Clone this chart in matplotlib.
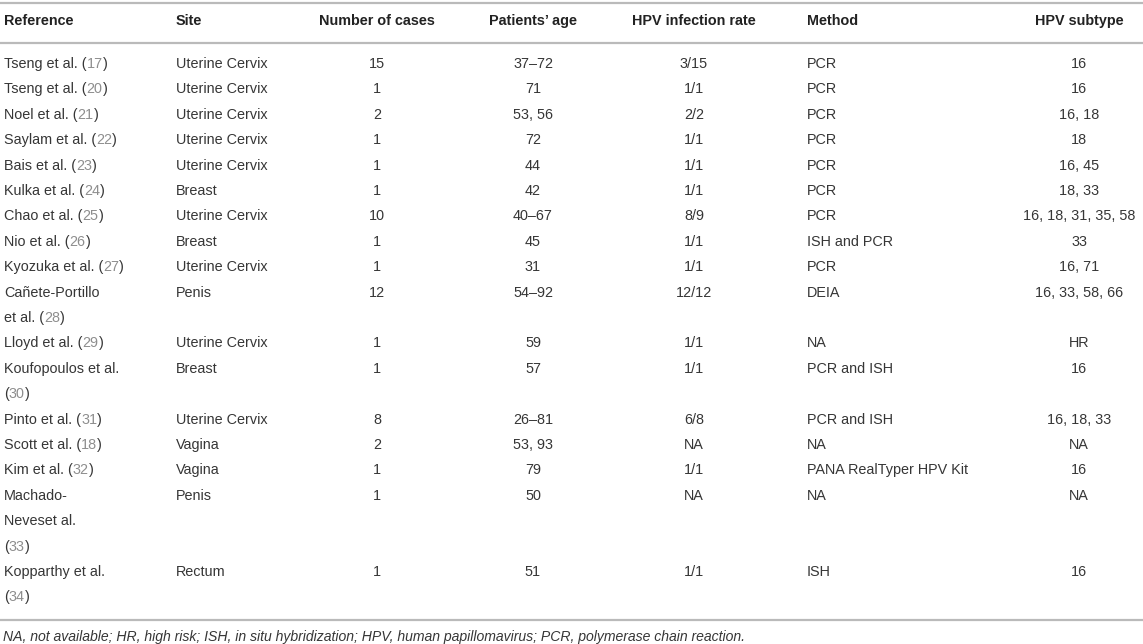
import re
import matplotlib
matplotlib.use("Agg")
import matplotlib.pyplot as plt

plt.rcParams['font.family'] = ['Liberation Sans', 'DejaVu Sans']

# ---------------- data ----------------
headers = ["Reference", "Site", "Number of cases", "Patients\u2019 age",
           "HPV infection rate", "Method", "HPV subtype"]

references = [
    ["Tseng et al. (17)"],
    ["Tseng et al. (20)"],
    ["Noel et al. (21)"],
    ["Saylam et al. (22)"],
    ["Bais et al. (23)"],
    ["Kulka et al. (24)"],
    ["Chao et al. (25)"],
    ["Nio et al. (26)"],
    ["Kyozuka et al. (27)"],
    ["Cañete-Portillo", "et al. (28)"],
    ["Lloyd et al. (29)"],
    ["Koufopoulos et al.", "(30)"],
    ["Pinto et al. (31)"],
    ["Scott et al. (18)"],
    ["Kim et al. (32)"],
    ["Machado-", "Neveset al.", "(33)"],
    ["Kopparthy et al.", "(34)"],
]
sites = ["Uterine Cervix", "Uterine Cervix", "Uterine Cervix", "Uterine Cervix",
         "Uterine Cervix", "Breast", "Uterine Cervix", "Breast", "Uterine Cervix",
         "Penis", "Uterine Cervix", "Breast", "Uterine Cervix", "Vagina", "Vagina",
         "Penis", "Rectum"]
num_cases = ["15", "1", "2", "1", "1", "1", "10", "1", "1", "12", "1", "1", "8",
             "2", "1", "1", "1"]
patients_age = ["37\u201372", "71", "53, 56", "72", "44", "42", "40\u201367", "45",
                "31", "54\u201392", "59", "57", "26\u201381", "53, 93", "79", "50", "51"]
infection_rate = ["3/15", "1/1", "2/2", "1/1", "1/1", "1/1", "8/9", "1/1", "1/1",
                  "12/12", "1/1", "1/1", "6/8", "NA", "1/1", "NA", "1/1"]
methods = ["PCR", "PCR", "PCR", "PCR", "PCR", "PCR", "PCR", "ISH and PCR", "PCR",
           "DEIA", "NA", "PCR and ISH", "PCR and ISH", "NA",
           "PANA RealTyper HPV Kit", "NA", "ISH"]
subtypes = ["16", "16", "16, 18", "18", "16, 45", "18, 33", "16, 18, 31, 35, 58",
            "33", "16, 71", "16, 33, 58, 66", "HR", "16", "16, 18, 33", "NA", "16",
            "NA", "16"]
footnote = ("NA, not available; HR, high risk; ISH, in situ hybridization; HPV, "
            "human papillomavirus; PCR, polymerase chain reaction.")

# ---------------- layout ----------------
W, H = 1143, 644
FS = 10.4
TXT = "#363636"
GRAY = "#8e8e8e"
LINE = "#bababa"

fig = plt.figure(figsize=(W / 100, H / 100), dpi=100)
ax = fig.add_axes([0, 0, 1, 1])
ax.set_xlim(0, W)
ax.set_ylim(H, 0)
ax.axis("off")

# column anchors: (x, ha)
cols = [(4, "left"), (176, "left"), (377, "center"), (533, "center"),
        (694, "center"), (807, "left"), (1079, "center")]

y_top_line = 3
y_header = 21
y_head_line = 43
y_first = 64
step = 25.4

for y in (y_top_line, y_head_line):
    ax.plot([0, W], [y, y], color=LINE, lw=1.6, solid_capstyle="butt")

for (x, ha), h in zip(cols, headers):
    ax.text(x, y_header, h, ha=ha, va="center", fontsize=FS,
            fontweight="bold", color="#222222")


def draw_ref_line(x, y, line):
    parts = re.split(r"(\d+)", line)
    prev = None
    for i, p in enumerate(parts):
        if p == "":
            continue
        color = GRAY if (i % 2 == 1) else TXT
        if prev is None:
            prev = ax.text(x, y, p, ha="left", va="center", fontsize=FS, color=color)
        else:
            prev = ax.annotate(p, xy=(1, 0), xycoords=prev, ha="left",
                               va="bottom", fontsize=FS, color=color)


line_idx = 0
for r in range(len(references)):
    y = y_first + line_idx * step
    for k, ln in enumerate(references[r]):
        draw_ref_line(cols[0][0], y + k * step, ln)
    vals = [sites[r], num_cases[r], patients_age[r], infection_rate[r],
            methods[r], subtypes[r]]
    for (x, ha), v in zip(cols[1:], vals):
        ax.text(x, y, v, ha=ha, va="center", fontsize=FS, color=TXT)
    line_idx += len(references[r])

y_bottom_line = y_first + (line_idx - 1) * step + 23
ax.plot([0, W], [y_bottom_line, y_bottom_line], color=LINE, lw=1.6,
        solid_capstyle="butt")
ax.text(3, y_bottom_line + 17, footnote, ha="left", va="center",
        fontsize=10.1, style="italic", color=TXT)

fig.savefig("out.png", dpi=100)
